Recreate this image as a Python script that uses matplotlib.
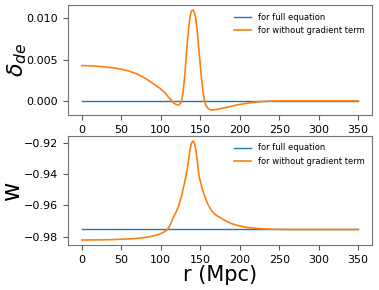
import matplotlib
matplotlib.use('Agg')
import matplotlib.pyplot as plt
import numpy as np

# r values (Mpc) and curves
r_full = [0, 350]
delta_full = [0.0, 0.0]
w_full = [-0.9752, -0.9752]

r_delta = [0, 10, 20, 30, 40, 50, 60, 70, 78, 85, 92, 99, 105, 110, 114, 117,
           121, 123, 125, 126, 127, 128, 129, 130, 131, 132, 133, 134, 135,
           136, 137, 138, 139, 140, 141, 142, 143, 144, 145, 146, 147, 148,
           149, 150, 151, 152, 153, 154, 155, 156, 157, 158, 160, 162, 164,
           167, 170, 175, 180, 187, 195, 205, 215, 225, 235, 245, 260, 350]
delta_nograd = [0.00427, 0.00425, 0.00419, 0.00411, 0.00400, 0.00384, 0.00361,
                0.00325, 0.00285, 0.00245, 0.00198, 0.00152, 0.00100, 0.00045,
                0.0, -0.0003, -0.0005, -0.00046, -0.0003, -0.0001, 0.0003,
                0.0009, 0.0017, 0.0027, 0.0038, 0.0051, 0.0064, 0.0075, 0.0085,
                0.0094, 0.0101, 0.0106, 0.0109, 0.01098, 0.0110, 0.0108, 0.0106,
                0.0101, 0.0094, 0.0086, 0.0076, 0.0065, 0.0054, 0.0043, 0.0033,
                0.0024, 0.0015, 0.0008, 0.0002, -0.0002, -0.0005, -0.0007,
                -0.0009, -0.00105, -0.0011, -0.00108, -0.00104, -0.00095,
                -0.00085, -0.0007, -0.00052, -0.00034, -0.0002, -0.0001,
                -0.00004, 0.0, 0.0, 0.0]

r_w = [0, 20, 40, 60, 75, 85, 95, 100, 105, 109, 112, 115.5, 119, 123, 126,
       129.4, 131.5, 133.6, 135.2, 136.6, 138, 139.3, 140.7, 141.5, 142.5,
       143.5, 144.5, 145.5, 146.5, 147.5, 149, 151.3, 154, 157, 160, 164, 168,
       172, 176.5, 182, 190, 200, 210, 225, 240, 260, 300, 350]
w_nograd = [-0.9822, -0.9821, -0.9819, -0.9815, -0.9809, -0.9802, -0.9790,
            -0.9781, -0.9768, -0.9752, -0.9725, -0.9682, -0.9648, -0.9598,
            -0.9545, -0.9472, -0.9422, -0.9366, -0.9312, -0.926, -0.9222,
            -0.9200, -0.919, -0.9193, -0.9205, -0.9225, -0.9250, -0.9285,
            -0.9330, -0.9378, -0.9425, -0.9472, -0.9520, -0.9562, -0.9598,
            -0.9632, -0.9655, -0.9670, -0.9682, -0.9700, -0.9718, -0.9733,
            -0.9742, -0.9749, -0.9753, -0.9755, -0.9755, -0.9755]

labels = ['for full equation', 'for without gradient term']

fig = plt.figure(figsize=(3.79, 2.90), dpi=100)
W, H = 379, 290
ax1 = fig.add_axes([68 / W, (H - 115) / H, 304 / W, 110 / H])
ax2 = fig.add_axes([68 / W, (H - 245) / H, 304 / W, 109 / H])

# top: density contrast
ax1.plot(r_full, delta_full, color='tab:blue', lw=1.0, label=labels[0])
ax1.plot(r_delta, delta_nograd, color='tab:orange', lw=1.2, label=labels[1])
ax1.set_ylabel(r'$\delta_{de}$', fontsize=16, labelpad=-2)
ax1.set_yticks([0.0, 0.005, 0.010])
ax1.set_xticks(np.arange(0, 351, 50))
ax1.legend(frameon=False, fontsize=6, loc='upper right')

# bottom: equation of state
ax2.plot(r_full, w_full, color='tab:blue', lw=1.0, label=labels[0])
ax2.plot(r_w, w_nograd, color='tab:orange', lw=1.2, label=labels[1])
ax2.set_ylabel('w', fontsize=17, labelpad=0)
ax2.set_xlabel('r (Mpc)', fontsize=15, labelpad=0.5)
ax2.set_yticks([-0.98, -0.96, -0.94, -0.92])
ax2.set_xticks(np.arange(0, 351, 50))
ax2.legend(frameon=False, fontsize=6, loc='upper right')

for ax in (ax1, ax2):
    ax.tick_params(labelsize=8, color='0.35')
    for s in ax.spines.values():
        s.set_color('0.45')

fig.savefig('out.png', dpi=100)
